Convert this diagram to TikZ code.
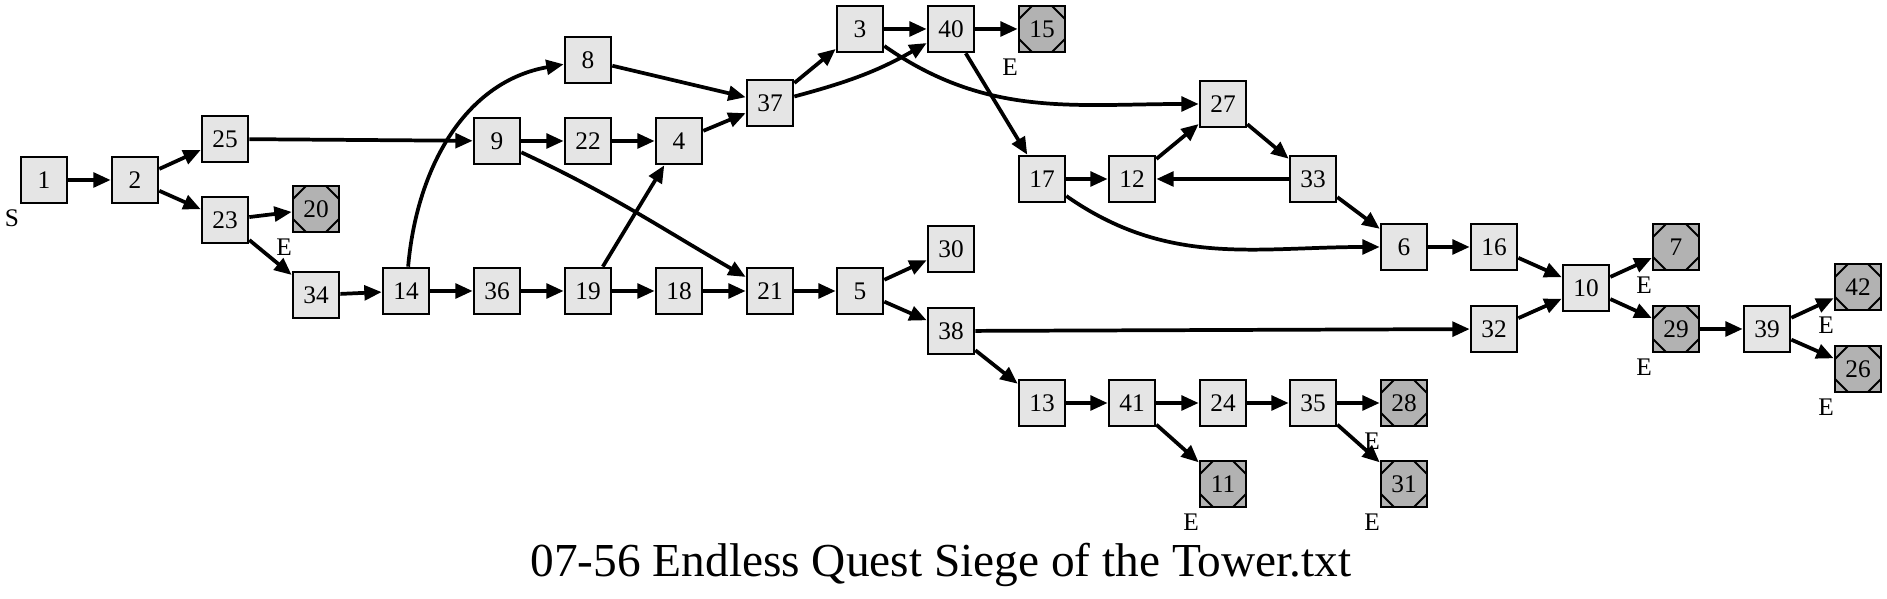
\documentclass[tikz,border=0pt]{standalone}
\usepackage{fontspec}
\setmainfont{Liberation Serif}
\usetikzlibrary{positioning}
\usetikzlibrary{arrows.meta}
\tikzset{
    mynode/.style = {rectangle, line width=1.5pt, draw=black, fill=black!10, minimum size=35pt, inner sep=0pt, font=\fontsize{19}{20}\selectfont},
    mynodee/.style = {mynode, fill=black!30, path picture={
        \draw[line width=1.5pt]
          ([xshift=-10.25pt]path picture bounding box.north east) -- ([yshift=-10.25pt]path picture bounding box.north east)
          ([xshift=10.25pt]path picture bounding box.north west) -- ([yshift=-10.25pt]path picture bounding box.north west)
          ([xshift=-10.25pt]path picture bounding box.south east) -- ([yshift=10.25pt]path picture bounding box.south east)
          ([xshift=10.25pt]path picture bounding box.south west) -- ([yshift=10.25pt]path picture bounding box.south west);}},
    xlab/.style = {label={[font=\fontsize{19}{20}\selectfont,inner sep=0pt,xshift=-24pt,yshift=-28.5pt]center:#1}},
    edgen/.style = {-{Triangle[length=13pt,width=11pt]},line width=2.8pt},
    titlen/.style = {font=\fontsize{35.5}{40}\selectfont,inner sep=0pt,anchor=base}
}
\begin{document}
\begin{tikzpicture}[x=0.75pt,y=0.75pt]
\useasboundingbox (0,0) rectangle (1887,599);

\node[mynode,xlab=S] at (44,419) (n1) {1};
\node[mynode] at (135,419) (n2) {2};
\node[mynode] at (225,460) (n25) {25};
\node[mynode] at (225,379) (n23) {23};
\node[mynodee,xlab=E] at (316,390) (n20) {20};
\node[mynode] at (316,304) (n34) {34};
\node[mynode] at (406,308) (n14) {14};
\node[mynode] at (497,308) (n36) {36};
\node[mynode] at (588,308) (n19) {19};
\node[mynode] at (497,458) (n9) {9};
\node[mynode] at (588,458) (n22) {22};
\node[mynode] at (588,539) (n8) {8};
\node[mynode] at (679,458) (n4) {4};
\node[mynode] at (679,308) (n18) {18};
\node[mynode] at (770,496) (n37) {37};
\node[mynode] at (770,308) (n21) {21};
\node[mynode] at (860,570) (n3) {3};
\node[mynode] at (860,308) (n5) {5};
\node[mynode] at (951,570) (n40) {40};
\node[mynode] at (951,350) (n30) {30};
\node[mynode] at (951,268) (n38) {38};
\node[mynodee,xlab=E] at (1042,570) (n15) {15};
\node[mynode] at (1042,420) (n17) {17};
\node[mynode] at (1042,196) (n13) {13};
\node[mynode] at (1132,420) (n12) {12};
\node[mynode] at (1132,196) (n41) {41};
\node[mynode] at (1223,495) (n27) {27};
\node[mynode] at (1223,196) (n24) {24};
\node[mynodee,xlab=E] at (1223,115) (n11) {11};
\node[mynode] at (1313,420) (n33) {33};
\node[mynode] at (1313,196) (n35) {35};
\node[mynode] at (1404,352) (n6) {6};
\node[mynodee,xlab=E] at (1404,196) (n28) {28};
\node[mynodee,xlab=E] at (1404,115) (n31) {31};
\node[mynode] at (1494,352) (n16) {16};
\node[mynode] at (1494,270) (n32) {32};
\node[mynode] at (1586,311) (n10) {10};
\node[mynodee,xlab=E] at (1676,352) (n7) {7};
\node[mynodee,xlab=E] at (1676,270) (n29) {29};
\node[mynode] at (1767,270) (n39) {39};
\node[mynodee,xlab=E] at (1858,312) (n42) {42};
\node[mynodee,xlab=E] at (1858,230) (n26) {26};
%
\draw[edgen] (n1) edge (n2);
\draw[edgen] (n2) edge (n25);
\draw[edgen] (n2) edge (n23);
\draw[edgen] (n23) edge (n20);
\draw[edgen] (n23) edge (n34);
\draw[edgen] (n25) edge (n9);
\draw[edgen] (n34) edge (n14);
\draw[edgen] (n14) to[out=85,in=190] (n8);
\draw[edgen] (n14) edge (n36);
\draw[edgen] (n36) edge (n19);
\draw[edgen] (n19) edge (n18);
\draw[edgen] (n19) edge (n4);
\draw[edgen] (n9) edge (n22);
\draw[edgen] (n9) to[out=-25,in=150] (n21);
\draw[edgen] (n22) edge (n4);
\draw[edgen] (n18) edge (n21);
\draw[edgen] (n8) edge (n37);
\draw[edgen] (n4) edge (n37);
\draw[edgen] (n37) edge (n3);
\draw[edgen] (n37) to[out=15,in=210] (n40);
\draw[edgen] (n3) edge (n40);
\draw[edgen] (n3) to[out=-35,in=180] (n27);
\draw[edgen] (n40) edge (n15);
\draw[edgen] (n40) edge (n17);
\draw[edgen] (n21) edge (n5);
\draw[edgen] (n5) edge (n30);
\draw[edgen] (n5) edge (n38);
\draw[edgen] (n17) edge (n12);
\draw[edgen] (n17) to[out=-35,in=180] (n6);
\draw[edgen] (n12) edge (n27);
\draw[edgen] (n27) edge (n33);
\draw[edgen] (n33) edge (n12);
\draw[edgen] (n33) edge (n6);
\draw[edgen] (n6) edge (n16);
\draw[edgen] (n16) edge (n10);
\draw[edgen] (n38) edge (n32);
\draw[edgen] (n38) edge (n13);
\draw[edgen] (n32) edge (n10);
\draw[edgen] (n10) edge (n7);
\draw[edgen] (n10) edge (n29);
\draw[edgen] (n29) edge (n39);
\draw[edgen] (n39) edge (n42);
\draw[edgen] (n39) edge (n26);
\draw[edgen] (n13) edge (n41);
\draw[edgen] (n41) edge (n24);
\draw[edgen] (n41) edge (n11);
\draw[edgen] (n24) edge (n35);
\draw[edgen] (n35) edge (n28);
\draw[edgen] (n35) edge (n31);

\node[titlen] at (941,22) (title) {07-56 Endless Quest Siege of the Tower.txt};

\end{tikzpicture}
\end{document}
